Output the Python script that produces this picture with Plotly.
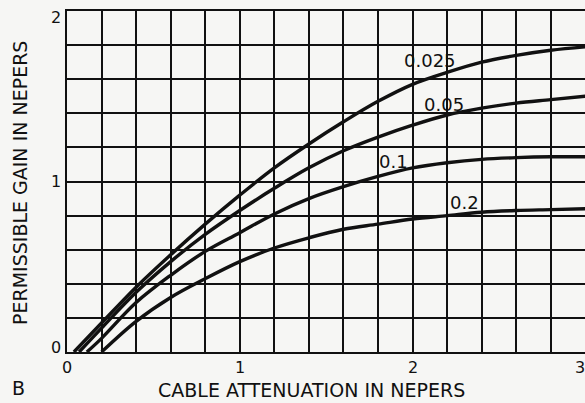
import plotly.graph_objects as go

# Cable attenuation (nepers) and permissible gain (nepers) for each parameter value
x_0025 = [0.04, 0.2, 0.4, 0.6, 0.8, 1.0, 1.2, 1.4, 1.6, 1.8, 2.0, 2.2, 2.4, 2.6, 2.8, 3.0]
y_0025 = [0.0, 0.17, 0.38, 0.57, 0.75, 0.92, 1.08, 1.22, 1.35, 1.47, 1.57, 1.64, 1.70, 1.74, 1.77, 1.79]

x_005 = [0.07, 0.2, 0.4, 0.6, 0.8, 1.0, 1.2, 1.4, 1.6, 1.8, 2.0, 2.2, 2.4, 2.6, 2.8, 3.0]
y_005 = [0.0, 0.14, 0.35, 0.53, 0.69, 0.83, 0.96, 1.08, 1.18, 1.26, 1.33, 1.39, 1.43, 1.46, 1.48, 1.50]

x_01 = [0.115, 0.2, 0.4, 0.6, 0.8, 1.0, 1.2, 1.4, 1.6, 1.8, 2.0, 2.2, 2.4, 2.6, 2.8, 3.0]
y_01 = [0.0, 0.08, 0.29, 0.45, 0.59, 0.70, 0.81, 0.90, 0.97, 1.03, 1.08, 1.11, 1.13, 1.14, 1.145, 1.145]

x_02 = [0.2, 0.4, 0.6, 0.8, 1.0, 1.2, 1.4, 1.6, 1.8, 2.0, 2.2, 2.4, 2.6, 2.8, 3.0]
y_02 = [0.0, 0.18, 0.32, 0.43, 0.53, 0.61, 0.67, 0.72, 0.75, 0.78, 0.80, 0.82, 0.83, 0.835, 0.84]

curve_labels = ["0.025", "0.05", "0.1", "0.2"]
label_x = [2.10, 2.18, 1.89, 2.30]
label_y = [1.71, 1.45, 1.115, 0.875]

x_ticks = [0, 1, 2]
y_ticks = [0, 1, 2]

INK = "#111111"
PAPER = "#f6f6f4"
FONT = "DejaVu Sans"

W, H = 585, 403
L, R, T, B = 67, 0, 11, 51


def px_to_paper(px, py):
    return (px - L) / (W - L - R), (H - B - py) / (H - T - B)


fig = go.Figure()
for xs, ys in [(x_0025, y_0025), (x_005, y_005), (x_01, y_01), (x_02, y_02)]:
    fig.add_trace(go.Scatter(
        x=xs, y=ys, mode="lines",
        line=dict(color=INK, width=3.4, shape="spline", smoothing=1.0),
        hoverinfo="skip", showlegend=False,
    ))

annotations = []
for txt, lx, ly in zip(curve_labels, label_x, label_y):
    annotations.append(dict(x=lx, y=ly, xref="x", yref="y", text=txt, showarrow=False,
                            font=dict(family=FONT, size=18, color=INK)))
for v in x_ticks:
    annotations.append(dict(x=v, y=0, xref="x", yref="y", text=str(v), showarrow=False,
                            yshift=-15, font=dict(family=FONT, size=16, color=INK)))
for v in y_ticks:
    annotations.append(dict(x=0, y=v, xref="x", yref="y", text=str(v), showarrow=False,
                            xshift=-11, yshift=(5 if v == 0 else (-6 if v == 2 else 0)),
                            font=dict(family=FONT, size=16, color=INK)))


def paper_text(text, px, py, size, angle=0):
    ax, ay = px_to_paper(px, py)
    return dict(x=ax, y=ay, xref="paper", yref="paper", xanchor="center", yanchor="middle",
                text=text, textangle=angle, showarrow=False,
                font=dict(family=FONT, size=size, color=INK))


# the "3" label sits at the clipped right-hand edge of the grid
annotations.append(paper_text("3", 580, 367, 16))
annotations.append(paper_text("CABLE ATTENUATION IN NEPERS", 311, 390, 19))
annotations.append(paper_text("PERMISSIBLE GAIN IN NEPERS", 20, 183, 19, angle=-90))
annotations.append(paper_text("B", 18, 388, 19))

grid = dict(showgrid=True, gridcolor=INK, gridwidth=1.8, zeroline=False,
            showticklabels=False, ticks="",
            minor=dict(dtick=0.2, showgrid=True, gridcolor=INK, gridwidth=1.8))

fig.update_layout(
    width=W, height=H,
    margin=dict(l=L, r=R, t=T, b=B),
    paper_bgcolor=PAPER, plot_bgcolor=PAPER,
    xaxis=dict(range=[0, 2.998], dtick=1, showline=True, linecolor=INK, linewidth=2.4,
               mirror=True, **grid),
    yaxis=dict(range=[0, 2], dtick=1, showline=True, linecolor=INK, linewidth=2.4, **grid),
    annotations=annotations,
)

fig.write_html("out.html")
